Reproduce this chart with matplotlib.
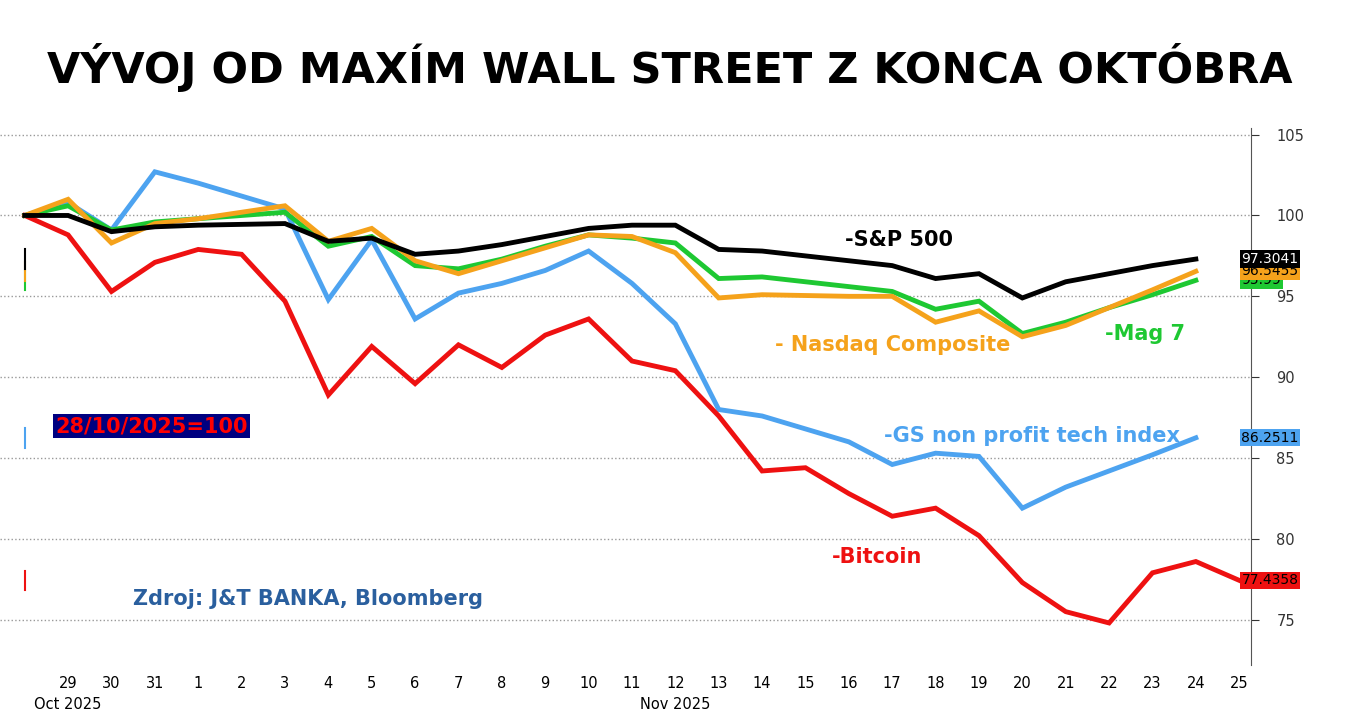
import numpy as np
import matplotlib.pyplot as plt

days = np.arange(0, 29)  # 28 Oct .. 25 Nov
tick_labels = ['29', '30', '31'] + [str(d) for d in range(1, 26)]

spx = [100, 100, 99.0, 99.3, 99.4, 99.45, 99.5, 98.4, 98.6, 97.6, 97.8, 98.2, 98.7, 99.2,
       99.4, 99.4, 97.9, 97.8, 97.5, 97.2, 96.9, 96.1, 96.4, 94.9, 95.9, 96.4, 96.9, 97.3041]
ndx = [100, 101.0, 98.3, 99.5, 99.8, 100.2, 100.6, 98.4, 99.2, 97.2, 96.4, 97.2, 98.0, 98.8,
       98.7, 97.7, 94.9, 95.1, 95.05, 95.0, 95.0, 93.4, 94.1, 92.5, 93.2, 94.3, 95.4, 96.5455]
mag7 = [100, 100.6, 99.1, 99.6, 99.8, 100.0, 100.2, 98.1, 98.7, 96.9, 96.7, 97.3, 98.1, 98.8,
        98.6, 98.3, 96.1, 96.2, 95.9, 95.6, 95.3, 94.2, 94.7, 92.7, 93.4, 94.3, 95.1, 95.99]
gs = [100, 100.8, 99.1, 102.7, 102.0, 101.2, 100.4, 94.8, 98.5, 93.6, 95.2, 95.8, 96.6, 97.8,
      95.8, 93.3, 88.0, 87.6, 86.8, 86.0, 84.6, 85.3, 85.1, 81.9, 83.2, 84.2, 85.2, 86.2511]
btc = [100, 98.8, 95.3, 97.1, 97.9, 97.6, 94.7, 88.9, 91.9, 89.6, 92.0, 90.6, 92.6, 93.6,
       91.0, 90.4, 87.6, 84.2, 84.4, 82.8, 81.4, 81.9, 80.2, 77.3, 75.5, 74.8, 77.9, 78.6, 77.4358]

fig = plt.figure(figsize=(13.47, 7.12), dpi=100)
ax = fig.add_axes([0.0, 0.066, 0.929, 0.754])

series = [
    (gs, '#4da3f0', '86.2511'),
    (btc, '#ee1111', '77.4358'),
    (mag7, '#1ec832', '95.99'),
    (ndx, '#f5a21b', '96.5455'),
    (spx, '#000000', '97.3041'),
]
for vals, col, tag in series:
    x = days[:len(vals)]
    ax.plot(x, vals, color=col, lw=3.5, solid_joinstyle='miter')
    txtcol = 'white' if col == '#000000' else 'black'
    ax.text(28.05, vals[-1], tag, color=txtcol, fontsize=10, va='center', ha='left',
            bbox=dict(boxstyle='square,pad=0.12', fc=col, ec='none'), zorder=5, clip_on=False)
    # small colour mark at left edge
    ax.plot([0, 0], [vals[-1] - 0.6, vals[-1] + 0.6], color=col, lw=1.5, clip_on=False)

ax.set_xlim(-0.57, 28.28)
ax.set_ylim(72.2, 105.4)
ax.yaxis.tick_right()
ax.set_yticks([75, 80, 85, 90, 95, 100, 105])
ax.tick_params(axis='y', labelsize=10.5, length=6, colors='#333333', pad=12)
ax.set_xticks(days[1:])
ax.set_xticklabels(tick_labels, fontsize=10.5)
ax.tick_params(axis='x', length=0, pad=8)
ax.text(1, -0.06, 'Oct 2025', transform=ax.get_xaxis_transform(), ha='center', va='top', fontsize=10.5)
ax.text(15, -0.06, 'Nov 2025', transform=ax.get_xaxis_transform(), ha='center', va='top', fontsize=10.5)
for s in ['top', 'left', 'bottom']:
    ax.spines[s].set_visible(False)
ax.spines['right'].set_color('#555555')
ax.grid(axis='y', ls=':', color='#999999', lw=1)

lbl = dict(fontsize=15, fontweight='bold')
ax.text(18.9, 98.1, '-S&P 500', color='black', **lbl)
ax.text(17.3, 91.6, '- Nasdaq Composite', color='#f5a21b', **lbl)
ax.text(24.9, 92.3, '-Mag 7', color='#1ec832', **lbl)
ax.text(19.8, 86.0, '-GS non profit tech index', color='#4da3f0', **lbl)
ax.text(18.6, 78.5, '-Bitcoin', color='#ee1111', **lbl)
ax.text(2.5, 75.9, 'Zdroj: J&T BANKA, Bloomberg', color='#2a5f9e', **lbl)
ax.text(0.7, 86.6, '28/10/2025=100', color='#ff0000', fontsize=15, fontweight='bold',
        bbox=dict(boxstyle='square,pad=0.1', fc='#000080', ec='none'))

fig.text(0.497, 0.905, 'VÝVOJ OD MAXÍM WALL STREET Z KONCA OKTÓBRA', ha='center', va='center',
         fontsize=31, fontweight='bold', color='black')

fig.savefig('out.png', dpi=100)
